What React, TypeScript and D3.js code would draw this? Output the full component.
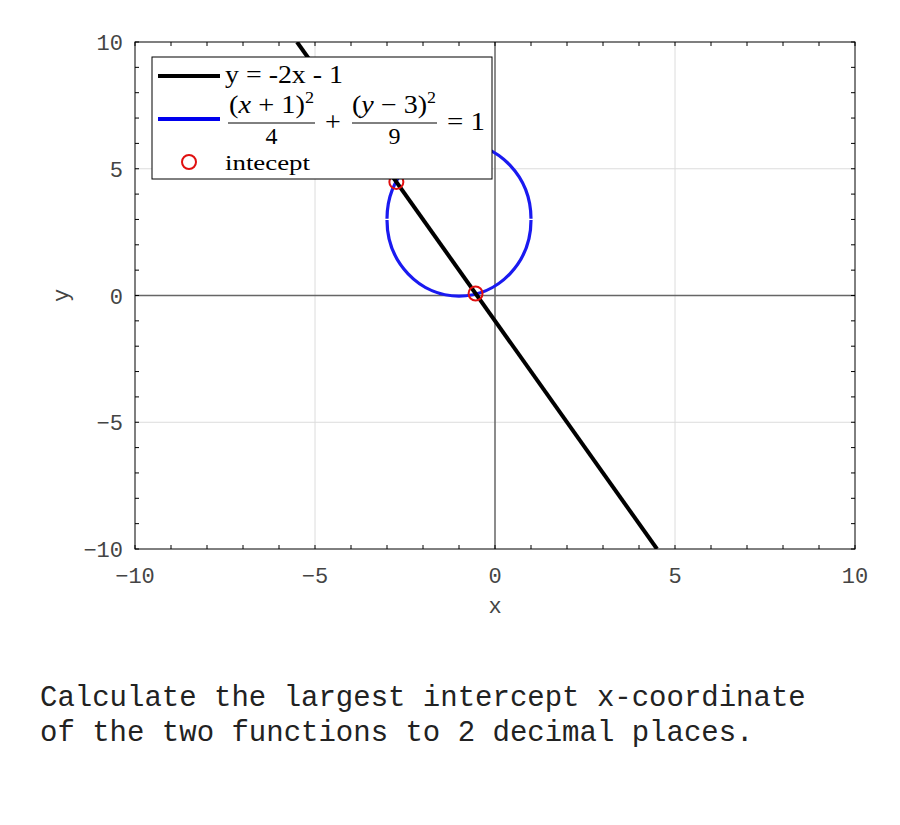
import React from "react";
import * as d3 from "d3";

const xTicks = [-10, -5, 0, 5, 10];
const yTicks = [-10, -5, 0, 5, 10];
const minorTicks = d3.range(-10, 11, 1);
const lineXs = [-5.5, 4.5];
const lineYs = [10, -10];
const ellipseCenter = [-1, 3];
const ellipseRadii = [2, 3];
const interceptXs = [-2.74, -0.54];
const interceptYs = [4.48, 0.08];
const questionLines = [
  "Calculate the largest intercept x-coordinate",
  "of the two functions to 2 decimal places.",
];

const W = 900, H = 825;
const L = 135, R = 855, T = 42, B = 549;

export default function App() {
  const x = d3.scaleLinear().domain([-10, 10]).range([L, R]);
  const y = d3.scaleLinear().domain([-10, 10]).range([B, T]);
  const mono = "'Liberation Mono', 'DejaVu Sans Mono', monospace";
  const serif = "'Liberation Serif', 'DejaVu Serif', serif";
  const linePath = d3.line<number>().x((d) => x(lineXs[d])).y((d) => y(lineYs[d]))([0, 1]) || "";
  const cx = x(ellipseCenter[0]), cy = y(ellipseCenter[1]);
  const rx = x(ellipseCenter[0] + ellipseRadii[0]) - cx;
  const ry = cy - y(ellipseCenter[1] + ellipseRadii[1]);
  const gap = 0.6;
  const upper = `M${cx - rx},${cy - gap} A${rx},${ry} 0 0 1 ${cx + rx},${cy - gap}`;
  const lower = `M${cx - rx},${cy + gap} A${rx},${ry} 0 0 0 ${cx + rx},${cy + gap}`;
  return (
    <svg width={W} height={H} style={{ display: "block", position: "absolute", left: 0, top: 0 }}>
      <rect width={W} height={H} fill="white" />
      <defs>
        <clipPath id="plotclip">
          <rect x={L} y={T} width={R - L} height={B - T} />
        </clipPath>
      </defs>
      {/* grid */}
      {xTicks.filter((t) => t !== 0 && Math.abs(t) !== 10).map((t) => (
        <line key={"gx" + t} x1={x(t)} x2={x(t)} y1={T} y2={B} stroke="#dcdcdc" strokeWidth={1} />
      ))}
      {yTicks.filter((t) => t !== 0 && Math.abs(t) !== 10).map((t) => (
        <line key={"gy" + t} y1={y(t)} y2={y(t)} x1={L} x2={R} stroke="#dcdcdc" strokeWidth={1} />
      ))}
      {/* zero axes */}
      <line x1={x(0)} x2={x(0)} y1={T} y2={B} stroke="#666" strokeWidth={1.5} />
      <line y1={y(0)} y2={y(0)} x1={L} x2={R} stroke="#666" strokeWidth={1.5} />
      {/* minor ticks */}
      {minorTicks.map((t) => (
        <g key={"t" + t} stroke="#000" strokeWidth={1}>
          <line x1={x(t)} x2={x(t)} y1={B} y2={B - 4} />
          <line x1={x(t)} x2={x(t)} y1={T} y2={T + 4} />
          <line y1={y(t)} y2={y(t)} x1={L} x2={L + 4} />
          <line y1={y(t)} y2={y(t)} x1={R} x2={R - 4} />
        </g>
      ))}
      <g clipPath="url(#plotclip)">
        <path d={upper} fill="none" stroke="#1a1af0" strokeWidth={3.2} />
        <path d={lower} fill="none" stroke="#1a1af0" strokeWidth={3.2} />
        <path d={linePath} fill="none" stroke="#000" strokeWidth={4} />
      </g>
      {/* intercepts */}
      {interceptXs.map((v, i) => (
        <circle key={"c" + i} cx={x(v)} cy={y(interceptYs[i])} r={7} fill="none" stroke="#e01010" strokeWidth={2} />
      ))}
      {/* frame */}
      <rect x={L} y={T} width={R - L} height={B - T} fill="none" stroke="#000" strokeWidth={1} />
      {/* tick labels */}
      {xTicks.map((t) => (
        <text key={"xl" + t} x={x(t)} y={583} textAnchor="middle" fontFamily={mono} fontSize={22} fill="#444">
          {t < 0 ? "\u2212" + Math.abs(t) : String(t)}
        </text>
      ))}
      {yTicks.map((t) => (
        <text key={"yl" + t} x={123} y={y(t) + 8} textAnchor="end" fontFamily={mono} fontSize={22} fill="#444">
          {t < 0 ? "\u2212" + Math.abs(t) : String(t)}
        </text>
      ))}
      <text x={x(0)} y={613} textAnchor="middle" fontFamily={mono} fontSize={22} fill="#444">x</text>
      <text transform={`translate(68,${y(0)}) rotate(-90)`} textAnchor="middle" fontFamily={mono} fontSize={22} fill="#444">y</text>
      {/* legend */}
      <g>
        <rect x={152} y={57} width={340} height={122} fill="white" stroke="#000" strokeWidth={1} />
        <line x1={158} x2={220} y1={76} y2={76} stroke="#000" strokeWidth={4} />
        <text x={225} y={83} fontFamily={serif} fontSize={25} fill="#000" textLength={118} lengthAdjust="spacingAndGlyphs">y = -2x - 1</text>
        <line x1={158} x2={220} y1={119} y2={119} stroke="#0000ee" strokeWidth={4} />
        <g fontFamily={serif} fontSize={25} fill="#000">
          <text x={229} y={113} textLength={85} lengthAdjust="spacingAndGlyphs">
            (<tspan fontStyle="italic">x</tspan> + 1)<tspan dy={-10} fontSize={16}>2</tspan>
          </text>
          <line x1={228} x2={315} y1={123} y2={123} stroke="#000" strokeWidth={1} />
          <text x={271.5} y={144} textAnchor="middle" fontSize={24}>4</text>
          <text x={333} y={131} textAnchor="middle" fontSize={28}>+</text>
          <text x={352} y={113} textLength={84} lengthAdjust="spacingAndGlyphs">
            (<tspan fontStyle="italic">y</tspan> − 3)<tspan dy={-10} fontSize={16}>2</tspan>
          </text>
          <line x1={352} x2={437} y1={123} y2={123} stroke="#000" strokeWidth={1} />
          <text x={394.5} y={144} textAnchor="middle" fontSize={24}>9</text>
          <text x={447} y={130} fontSize={26} textLength={38} lengthAdjust="spacingAndGlyphs">= 1</text>
        </g>
        <circle cx={189} cy={162} r={7} fill="none" stroke="#e01010" strokeWidth={2} />
        <text x={225} y={170} fontFamily={serif} fontSize={22} fill="#000" textLength={85} lengthAdjust="spacingAndGlyphs">intecept</text>
      </g>
      {/* question */}
      {questionLines.map((s, i) => (
        <text key={"q" + i} x={40} y={706 + i * 35} fontFamily={mono} fontSize={29} fill="#222">{s}</text>
      ))}
    </svg>
  );
}
